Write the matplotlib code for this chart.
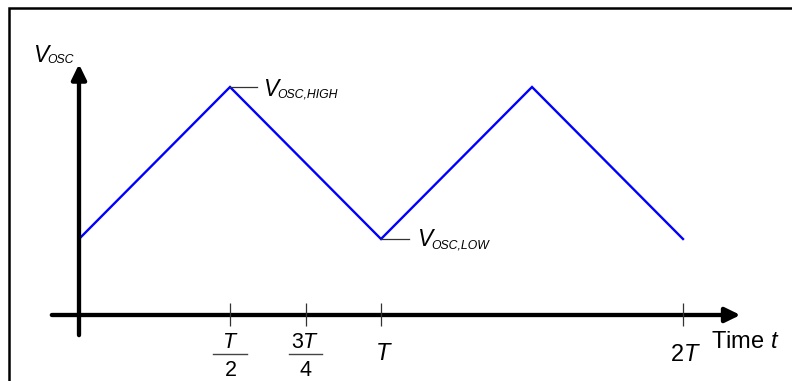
import matplotlib
matplotlib.use("Agg")
import matplotlib.pyplot as plt
from matplotlib.patches import Rectangle
from matplotlib.lines import Line2D

plt.rcParams["font.family"] = ["Liberation Sans", "DejaVu Sans"]
plt.rcParams["mathtext.fontset"] = "custom"
plt.rcParams["mathtext.rm"] = "Liberation Sans"
plt.rcParams["mathtext.it"] = "Liberation Sans:italic"

# triangle wave, time in units of T, voltage in arbitrary units
t_knots = [0.0, 0.5, 1.0, 1.5, 2.0]
v_osc = [1.0, 3.0, 1.0, 3.0, 1.0]
v_low = 1.0
v_high = 3.0

tick_pos = [0.5, 0.75, 1.0, 2.0]

W, H = 792, 381
fig = plt.figure(figsize=(W / 100, H / 100), dpi=100)
ax = fig.add_axes([0, 0, 1, 1])
# 302 px per T, 76 px per volt unit, origin at pixel (79, 315)
ax.set_xlim(-79 / 302, (W - 79) / 302)
ax.set_ylim(-(H - 315) / 76, 315 / 76)
ax.axis("off")


def px(x, y):
    # pixel position measured from the top-left corner -> figure fraction
    return x / W, 1 - y / H


# outer frame (only left and top edges show)
fig.add_artist(Rectangle(px(8.5, 500), 900 / W, 492 / H, transform=fig.transFigure,
                         fill=False, ec="black", lw=1.8, clip_on=False))

# axes with arrow heads
arrow_kw = dict(arrowstyle="-|>,head_length=0.45,head_width=0.22", lw=3.1,
                color="black", mutation_scale=20, shrinkA=0, shrinkB=0)
ax.annotate("", xy=(2.19, 0), xytext=(-0.09, 0), arrowprops=arrow_kw)
ax.annotate("", xy=(0, 3.3), xytext=(0, -0.265), arrowprops=arrow_kw)

# tick marks
ax.vlines(tick_pos, -0.15, 0.16, color="#333333", lw=0.9, zorder=3)

# the oscillator ramp
ax.plot(t_knots, v_osc, color="#0000ff", lw=1.7, solid_joinstyle="miter")

# leader lines to the level labels
ax.plot([0.5, 0.5 + 0.088], [v_high, v_high], color="#333333", lw=0.9)
ax.plot([1.0, 1.0 + 0.092], [v_low, v_low], color="#333333", lw=0.9)

ital = dict(style="italic", va="baseline", ha="left")


def vlabel(x, y, sub, dx=14, dy=2):
    fig.text(*px(x, y), "V", fontsize=16.5, **ital)
    fig.text(*px(x + dx, y + dy), sub, fontsize=8.8, **ital)


vlabel(33, 62, "OSC", dy=1)
vlabel(263, 95.5, "OSC,HIGH")
vlabel(417, 246.5, "OSC,LOW", dy=2.5)


def frac(xc, num, den, bar_w=34, fs=15.5):
    fig.text(*px(xc, 348.5), num, fontsize=fs, ha="center", va="baseline")
    fig.add_artist(Line2D([(xc - bar_w / 2) / W, (xc + bar_w / 2) / W],
                          [1 - 353.5 / H, 1 - 353.5 / H], transform=fig.transFigure,
                          color="#444444", lw=1.0))
    fig.text(*px(xc + 0.5, 375.5), den, fontsize=fs, ha="center", va="baseline")


frac(230, "$T$", "2")
frac(305.5, "3$T$", "4", bar_w=33)
fig.text(*px(384, 360), "$T$", fontsize=17, ha="center", va="baseline")
fig.text(*px(685, 361), "2$T$", fontsize=17, ha="center", va="baseline")
fig.text(*px(711, 347.5), "Time $t$", fontsize=17, ha="left", va="baseline")

fig.savefig("out.png", dpi=100)
